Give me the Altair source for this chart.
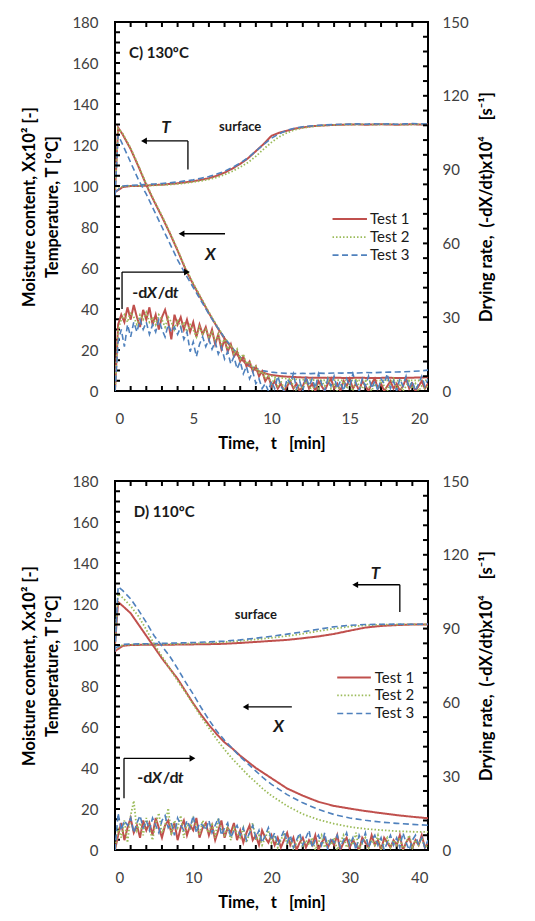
import altair as alt
import pandas as pd

FONT = "Lato"
TESTS = ["Test 1", "Test 2", "Test 3"]
COLORS = ["#C0504D", "#9BBB59", "#4F81BD"]
DASHES = [[1, 0], [1.5, 2], [6, 3.5]]
WIDTHS = [2, 1.6, 2.2]
NB = "\u00a0"

# ---------------- Panel C) 130 °C ----------------
C_T_TIME = [i * 0.5 for i in range(41)]
C_T1 = [97, 99.5, 100, 100, 100.2, 100.5, 100.6, 101, 101.3, 101.8, 102.3, 103, 103.8, 105, 106.5,
        108.5, 110.8, 113.5, 117, 120.5, 124.5, 126, 127, 128, 128.6, 129.1, 129.4, 129.6, 129.8,
        129.9, 130, 130.1, 129.9, 130, 130.1, 130, 129.9, 130, 130.1, 130, 130]
C_T2 = [98, 99.8, 100, 100.1, 100.2, 100.3, 100.5, 100.7, 101, 101.4, 101.9, 102.5, 103.2, 104.2,
        105.5, 107.2, 109.2, 111.5, 114.5, 118, 121.3, 124, 126, 127.5, 128.3, 128.9, 129.3, 129.6,
        129.8, 129.9, 130, 130, 130.1, 129.9, 130, 130.1, 130, 129.9, 130, 130.1, 130]
C_T3 = [97, 100, 100.3, 100.5, 100.8, 101, 101.2, 101.6, 102, 102.5, 103, 103.8, 104.6, 105.8,
        107.2, 109, 111.2, 113.8, 117, 120.3, 123.3, 125.5, 127.2, 128.3, 128.9, 129.3, 129.6, 129.8,
        130, 130.1, 130.2, 130.3, 130.1, 130.4, 130.2, 130.3, 130.1, 130.3, 130.5, 130.3, 130.2]

C_X_TIME = [0, 0.2] + [i * 0.5 for i in range(1, 41)]
C_X1 = [97, 128.5, 125, 118, 109.5, 100.5, 92.5, 85, 77, 68.5, 59.5, 52, 45, 38, 31.5, 25.5, 20.5,
        16, 12.5, 10.2, 8.8, 7.8, 7.3, 7, 6.8, 6.6, 6.5, 6.5, 6.4, 6.5, 6.4, 6.3, 6.5, 6.4, 6.3, 6.4,
        6.5, 6.3, 6.4, 6.5, 6.6, 6.7]
C_X2 = [97, 128, 125.5, 118.5, 110, 101, 93, 85.5, 77.5, 69, 60, 52.5, 45.5, 38.5, 32, 26, 21,
        16.5, 13, 10.5, 8.5, 7.2, 6.5, 6, 5.7, 5.5, 5.4, 5.3, 5.2, 5.3, 5.2, 5.1, 5.2, 5.1, 5, 5.1,
        5.2, 5, 5.1, 5.2, 5.1, 5.2]
C_X3 = [95, 125, 120, 111.5, 103, 96, 88, 80, 72, 64, 57, 50.5, 44, 37.5, 31.5, 26, 21, 16.5, 13,
        11, 9.8, 9.2, 8.8, 8.6, 8.5, 8.6, 8.5, 8.7, 8.6, 8.8, 8.7, 8.9, 8.8, 9, 8.9, 9.1, 9.2, 9.3,
        9.4, 9.6, 9.8, 10.2]

C_R_TIME = [round(i * 0.2, 1) for i in range(101)]
C_R1 = [0, 27, 31, 28, 34, 29, 35, 30, 26, 33,
        29, 34, 27, 31, 25, 30, 33, 28, 21, 31,
        27, 30, 25, 29, 24, 28, 22, 27, 23, 26,
        21, 25, 19, 23, 17, 21, 16, 19, 14, 16,
        12, 14, 10, 12, 8, 10, 6, 8, 4, 6,
        2, 4, 1, 3, 0, 2, 4, 1, 3, 0,
        2, 5, 1, 3, 0, 4, 2, 0, 3, 5,
        1, 3, 0, 4, 2, 5, 1, 3, 0, 4,
        2, 0, 3, 5, 1, 3, 0, 2, 4, 1,
        3, 0, 2, 5, 1, 3, 0, 2, 4, 1,
        3]
C_R2 = [0, 25, 29, 31, 28, 32, 30, 27, 31, 29,
        32, 28, 30, 27, 31, 29, 26, 30, 28, 25,
        29, 26, 28, 24, 27, 25, 22, 26, 23, 25,
        22, 24, 20, 23, 19, 21, 17, 19, 15, 17,
        13, 15, 11, 12, 9, 10, 7, 8, 5, 6,
        3, 5, 2, 4, 1, 3, 5, 2, 0, 3,
        1, 4, 2, 0, 3, 1, 4, 2, 5, 1,
        3, 0, 2, 4, 1, 3, 0, 5, 2, 1,
        4, 2, 0, 3, 1, 4, 2, 0, 3, 5,
        1, 3, 0, 2, 4, 1, 3, 0, 2, 1,
        2]
C_R3 = [0, 20, 25, 18, 27, 22, 28, 24, 29, 25,
        28, 23, 27, 24, 29, 25, 22, 27, 24, 26,
        23, 26, 21, 24, 16, 20, 14, 19, 22, 18,
        21, 17, 20, 15, 18, 13, 16, 11, 14, 9,
        12, 7, 10, 5, 8, 3, 5, 1, 3, 0,
        4, 1, 6, 2, 0, 5, 3, 7, 1, 4,
        0, 6, 2, 5, 1, 7, 3, 0, 5, 2,
        6, 1, 4, 0, 5, 2, 7, 3, 0, 5,
        2, 6, 1, 4, 0, 5, 3, 7, 1, 4,
        0, 5, 2, 6, 1, 4, 0, 3, 6, 2,
        5]

# ---------------- Panel D) 110 °C ----------------
D_T_TIME = [0, 1] + [i * 2 for i in range(1, 21)]
D_T1 = [97, 99.6, 100, 100.1, 100.1, 100.2, 100.3, 100.4, 100.6, 101, 101.5, 102, 102.5, 103.3,
        104.2, 105.4, 107, 108.5, 109.3, 109.7, 110, 110]
D_T2 = [98, 100, 100.2, 100.3, 100.4, 100.5, 100.7, 101, 101.4, 102, 102.7, 103.5, 104.4, 105.5,
        106.8, 108, 109, 109.6, 109.9, 110, 110.1, 110]
D_T3 = [98.5, 100.3, 100.5, 100.6, 100.8, 101, 101.2, 101.5, 101.9, 102.5, 103.3, 104.3, 105.3,
        106.4, 107.7, 108.9, 109.6, 110, 110.1, 110.2, 110.1, 110.2]

D_X_TIME = [0, 0.4] + list(range(1, 21)) + list(range(22, 41, 2))
D_X1 = [100, 121, 119, 115.5, 110, 104.5, 99, 93.5, 88.5, 83.5, 77.5, 71.5, 66, 61, 56.5, 52.5,
        49.5, 46, 43, 40, 37.5, 35, 30, 26.5, 23.5, 21.5, 20.2, 19, 18, 17, 16.2, 15.5]
D_X2 = [100, 125, 123, 119, 114, 107.5, 100.5, 94.5, 88.5, 82.5, 77, 71, 65, 59.5, 54, 49, 44.5,
        40.5, 36.5, 33, 29.5, 26.5, 21.5, 17.5, 14.8, 12.8, 11.3, 10.3, 9.7, 9.2, 8.9, 8.8]
D_X3 = [97, 128.5, 126.5, 122.5, 117, 111, 104.5, 99.5, 94.5, 88.5, 82, 76, 69.5, 63.5, 58, 53.5,
        49.5, 45.5, 42, 38.5, 35, 32, 27, 23, 19.8, 17.3, 15.6, 14.5, 13.6, 13, 12.5, 12.1]

D_R_TIME = [round(i * 0.4, 1) for i in range(101)]
D_R1 = [0, 6, 11, 4, 9, 13, 7, 10, 5, 12,
        8, 11, 6, 13, 9, 5, 10, 12, 7, 11,
        4, 9, 12, 6, 10, 8, 13, 5, 9, 11,
        6, 10, 4, 8, 12, 5, 9, 7, 11, 4,
        8, 3, 7, 10, 4, 6, 2, 8, 5, 3,
        6, 2, 5, 1, 4, 7, 2, 5, 0, 3,
        5, 1, 4, 2, 6, 0, 3, 5, 1, 4,
        2, 6, 0, 3, 5, 1, 4, 2, 0, 5,
        3, 1, 6, 2, 4, 0, 5, 3, 1, 4,
        2, 6, 0, 3, 5, 1, 4, 2, 6, 1,
        3]
D_R2 = [0, 9, 5, 12, 3, 14, 20, 8, 11, 6,
        13, 9, 4, 11, 15, 7, 10, 17, 6, 12,
        9, 14, 5, 11, 8, 13, 10, 6, 12, 9,
        7, 11, 5, 13, 8, 6, 10, 4, 9, 7,
        5, 9, 3, 7, 11, 4, 6, 2, 5, 8,
        3, 6, 1, 4, 7, 2, 5, 0, 3, 6,
        1, 4, 2, 5, 0, 3, 6, 1, 4, 2,
        5, 0, 3, 6, 1, 4, 2, 7, 0, 3,
        5, 1, 4, 2, 6, 0, 3, 5, 1, 4,
        2, 5, 0, 3, 6, 1, 4, 2, 5, 1,
        2]
D_R3 = [0, 15, 8, 12, 10, 13, 7, 11, 14, 9,
        12, 8, 13, 10, 7, 12, 14, 9, 11, 6,
        13, 10, 8, 12, 9, 14, 7, 11, 10, 8,
        12, 7, 10, 13, 6, 9, 11, 5, 8, 10,
        6, 9, 4, 7, 10, 5, 8, 3, 6, 9,
        4, 7, 2, 5, 8, 3, 6, 1, 4, 7,
        2, 5, 8, 1, 4, 6, 2, 7, 0, 5,
        3, 6, 1, 4, 7, 2, 5, 0, 6, 3,
        7, 1, 4, 6, 2, 5, 0, 3, 6, 2,
        5, 1, 7, 3, 0, 4, 6, 2, 5, 1,
        4]

LEFT_LABELS = list(range(0, 181, 20))
RIGHT_LABELS = list(range(0, 151, 30))
LEFT_MINOR = list(range(0, 181, 5))
RIGHT_MINOR = list(range(0, 151, 6))

X_TITLE = "Time," + NB * 3 + "t" + NB * 3 + "[min]"
YL_TITLE = ["Moisture content, Xx10² [-]", "Temperature, T [°C]"]
YR_TITLE = "Drying rate," + NB * 2 + "(-dX/dt)x10⁴" + NB * 4 + "[s⁻¹]"

W, H = 313, 369
TXT = "#1a1a1a"


def long_df(time, series, col):
    rows = []
    for name, vals in zip(TESTS, series):
        for t, v in zip(time, vals):
            rows.append({"t": t, col: v, "test": name})
    return pd.DataFrame(rows)


def panel(title, xmax, xstep, xminor, T_time, T_s, X_time, X_s, R_time, R_s, notes):
    xs = alt.Scale(domain=[0, xmax], nice=False, zero=False)
    yls = alt.Scale(domain=[0, 180], nice=False)
    yrs = alt.Scale(domain=[0, 150], nice=False)
    xax = alt.Axis(values=list(range(0, xmax + 1, xstep)), title=X_TITLE,
                   labelPadding=20, titlePadding=9)
    ylax = alt.Axis(values=LEFT_LABELS, title=YL_TITLE,
                    labelPadding=17, titlePadding=11, titleLineHeight=23)
    yrax = alt.Axis(orient="right", values=RIGHT_LABELS, title=YR_TITLE,
                    labelPadding=14, titlePadding=10, titleAngle=270, titleBaseline="top")

    def X(f="t"):
        return alt.X(f + ":Q", scale=xs, axis=xax)

    def YL(f="v"):
        return alt.Y(f + ":Q", scale=yls, axis=ylax)

    enc_style = dict(
        color=alt.Color("test:N", scale=alt.Scale(domain=TESTS, range=COLORS), legend=None),
        strokeDash=alt.StrokeDash("test:N", scale=alt.Scale(domain=TESTS, range=DASHES), legend=None),
        strokeWidth=alt.StrokeWidth("test:N", scale=alt.Scale(domain=TESTS, range=WIDTHS), legend=None),
    )

    t_lines = alt.Chart(long_df(T_time, T_s, "v")).mark_line(clip=True).encode(x=X(), y=YL(), **enc_style)
    x_lines = alt.Chart(long_df(X_time, X_s, "v")).mark_line(clip=True).encode(x=X(), y=YL(), **enc_style)

    xt = pd.DataFrame({"t": xminor})
    tick_b = alt.Chart(xt).mark_rule(color="black", strokeWidth=2).encode(
        x=X(), y=alt.value(H), y2=alt.value(H - 5))
    tick_t = alt.Chart(xt).mark_rule(color="black", strokeWidth=2).encode(
        x=X(), y=alt.value(0), y2=alt.value(5))
    tick_l = alt.Chart(pd.DataFrame({"v": LEFT_MINOR})).mark_rule(color="black", strokeWidth=2).encode(
        y=YL(), x=alt.value(0), x2=alt.value(5))

    layers = [t_lines, x_lines, tick_b, tick_t, tick_l]

    def txt(label, t, v, size, style="normal", align="left", dx=0):
        return alt.Chart(pd.DataFrame({"t": [t], "v": [v], "label": [label]})).mark_text(
            font=FONT, fontSize=size, fontWeight="bold", fontStyle=style, align=align,
            baseline="middle", color=TXT, dx=dx).encode(x=X(), y=YL(), text="label:N")

    def seg(t, t2, v, v2):
        return alt.Chart(pd.DataFrame({"t": [t], "t2": [t2], "v": [v], "v2": [v2]})).mark_rule(
            color="black", strokeWidth=1.3).encode(x=X(), x2="t2:Q", y=YL(), y2="v2:Q")

    def head(t, v, shape):
        return alt.Chart(pd.DataFrame({"t": [t], "v": [v]})).mark_point(
            shape=shape, filled=True, color="black", opacity=1, size=45).encode(x=X(), y=YL())

    n = notes
    layers += [
        txt(title, n["title"][0], n["title"][1], 15),
        txt("surface", n["surface"][0], n["surface"][1], 13, align="center"),
        txt("T", n["T"][0], n["T"][1], 17, style="italic", align="center"),
        txt("X", n["X"][0], n["X"][1], 17, style="italic", align="center"),
        txt("-d", n["dx"][0], n["dx"][1], 16),
        txt("X", n["dx"][0], n["dx"][1], 16, style="italic", dx=14.5),
        txt("/d", n["dx"][0], n["dx"][1], 16, dx=25.5),
        txt("t", n["dx"][0], n["dx"][1], 16, style="italic", dx=40.5),
    ]
    ta = n["Tarrow"]
    layers += [seg(ta[0], ta[1], ta[2], ta[2]), seg(ta[1], ta[1], ta[2], ta[3]),
               head(ta[0], ta[2], "triangle-left")]
    xa = n["Xarrow"]
    layers += [seg(xa[0], xa[1], xa[2], xa[2]), head(xa[0], xa[2], "triangle-left")]
    da = n["Rarrow"]
    layers += [seg(da[0], da[1], da[2], da[2]), seg(da[0], da[0], da[2], da[3]),
               head(da[1], da[2], "triangle-right")]

    lg = n["legend"]
    leg_df = pd.DataFrame({"t": [lg[0]] * 3, "t2": [lg[1]] * 3, "v": lg[2], "test": TESTS})
    leg_lines = alt.Chart(leg_df).mark_rule().encode(
        x=X(), x2="t2:Q", y=YL(), color=enc_style["color"], strokeDash=enc_style["strokeDash"],
        strokeWidth=enc_style["strokeWidth"])
    leg_txt = alt.Chart(pd.DataFrame({"t": [lg[3]] * 3, "v": lg[2], "label": TESTS})).mark_text(
        font=FONT, fontSize=15, align="left", baseline="middle", color=TXT).encode(
        x=X(), y=YL(), text="label:N")
    layers += [leg_lines, leg_txt]

    left = alt.layer(*layers)

    r_lines = alt.Chart(long_df(R_time, R_s, "r")).mark_line(clip=True).encode(
        x=X(), y=alt.Y("r:Q", scale=yrs, axis=yrax), **enc_style)
    tick_r = alt.Chart(pd.DataFrame({"r": RIGHT_MINOR})).mark_rule(color="black", strokeWidth=2).encode(
        y=alt.Y("r:Q", scale=yrs, axis=yrax), x=alt.value(W - 5), x2=alt.value(W))
    right = alt.layer(r_lines, tick_r)

    return alt.layer(left, right).resolve_scale(y="independent").properties(width=W, height=H)


C_NOTES = {
    "title": (0.9, 165), "surface": (8.0, 129), "T": (3.25, 128.5), "X": (6.1, 66.5),
    "dx": (1.1, 48), "Tarrow": (1.85, 4.66, 122, 108), "Xarrow": (4.25, 7.03, 76.7),
    "Rarrow": (0.45, 4.6, 58, 40), "legend": (13.9, 16.1, [83.9, 75.1, 66.3], 16.3),
}
D_NOTES = {
    "title": (2.4, 165), "surface": (18.0, 114.4), "T": (33.3, 134.7), "X": (20.9, 60),
    "dx": (2.85, 35), "Tarrow": (30.7, 36.4, 129.4, 116.1), "Xarrow": (16.7, 22.6, 69.8),
    "Rarrow": (1.15, 9.9, 44.7, 25.3), "legend": (28.4, 32.7, [84.1, 75.4, 66.6], 33.2),
}

top = panel("C) 130ºC", 20, 5, list(range(0, 21)), C_T_TIME, [C_T1, C_T2, C_T3],
            C_X_TIME, [C_X1, C_X2, C_X3], C_R_TIME, [C_R1, C_R2, C_R3], C_NOTES)
bottom = panel("D) 110ºC", 40, 10, list(range(0, 41, 2)), D_T_TIME, [D_T1, D_T2, D_T3],
               D_X_TIME, [D_X1, D_X2, D_X3], D_R_TIME, [D_R1, D_R2, D_R3], D_NOTES)

chart = alt.vconcat(top, bottom, spacing=20).properties(
    padding={"left": 20, "top": 14, "right": 5, "bottom": 5}, background="white"
).configure_axis(
    labelFont=FONT, labelFontSize=15, labelColor="#404040", titleFont=FONT, titleFontSize=16.5,
    titleFontWeight="bold", titleColor="black", grid=False, ticks=False, domain=False,
).configure_view(stroke="black", strokeWidth=2)

chart.save("out.html", embed_options={"renderer": "svg", "actions": False})
